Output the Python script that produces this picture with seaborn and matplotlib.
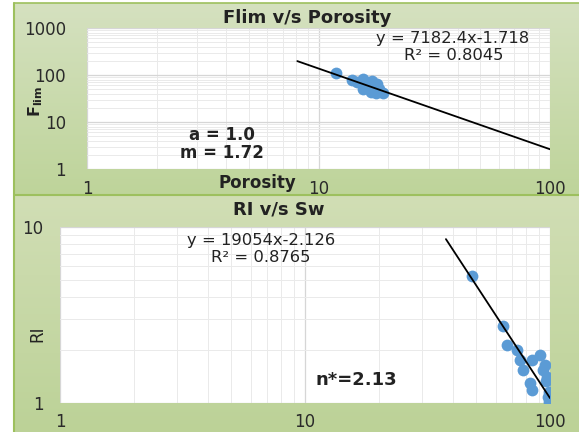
import numpy as np
import pandas as pd
import matplotlib
matplotlib.use("Agg")
import matplotlib.pyplot as plt
import seaborn as sns
from matplotlib.colors import LinearSegmentedColormap
from matplotlib.ticker import FixedLocator, FixedFormatter, LogLocator, NullFormatter

# Formation factor vs porosity
porosity = [11.96, 14.0, 15.5, 17.1, 17.9, 16.1, 14.7, 18.9, 16.9, 18.3, 17.8, 15.5]
flim = [108, 76.6, 80.5, 72.9, 62.9, 57.0, 69.5, 42.4, 44.5, 49.2, 42.4, 51.6]
flim_coef, flim_exp, flim_r2 = 7182.4, -1.718, 0.8045
flim_fit_range = [8.1, 100]

# Resistivity index vs water saturation
sw = [48.0, 64.3, 66.7, 73.3, 75.4, 84.5, 77.6, 93.6, 82.9, 97.2, 99.0, 99.0,
      84.5, 91.0, 95.4, 96.5, 98.0]
ri = [5.3, 2.74, 2.14, 2.0, 1.76, 1.76, 1.54, 1.54, 1.30, 1.40, 1.155, 1.01,
      1.19, 1.87, 1.64, 1.33, 1.08]
ri_coef, ri_exp, ri_r2 = 19054, -2.126, 0.8765
ri_fit_range = [37.6, 100]

top_yticks = [1, 10, 100, 1000]
bottom_yticks = [1, 10]
xticks = [1, 10, 100]

W, H = 579, 432
sns.set_theme(style="white")
plt.rcParams["font.family"] = ["DejaVu Sans"]

fig = plt.figure(figsize=(W / 100, H / 100), dpi=100)

# background panels in pixel coordinates
bg = fig.add_axes([0, 0, 1, 1], zorder=0)
bg.set_xlim(0, W)
bg.set_ylim(H, 0)
bg.axis("off")
grad = np.linspace(0, 1, 256).reshape(-1, 1)
top_cmap = LinearSegmentedColormap.from_list("top", ["#d5e1c0", "#bed49a"])
bot_cmap = LinearSegmentedColormap.from_list("bot", ["#d1deb5", "#bcd297"])
bg.imshow(grad, cmap=top_cmap, extent=[14, W, 194, 3], aspect="auto", origin="upper")
bg.imshow(grad, cmap=bot_cmap, extent=[14, W, H, 196], aspect="auto", origin="upper")
line_c = "#9dc05e"
bg.plot([14, 14], [3, H], color=line_c, lw=1.5)
bg.plot([14, W], [3, 3], color=line_c, lw=1.2)
bg.plot([14, W], [195, 195], color=line_c, lw=1.5)
bg.set_xlim(0, W)
bg.set_ylim(H, 0)

# transparent layer above the charts for titles and annotations
fg = fig.add_axes([0, 0, 1, 1], zorder=10)
fg.set_xlim(0, W)
fg.set_ylim(H, 0)
fg.axis("off")
fg.patch.set_alpha(0)


def rect(x0, y0, x1, y1):
    return [x0 / W, 1 - y1 / H, (x1 - x0) / W, (y1 - y0) / H]


def style_axes(ax, xlim, ylim, yticks, ypad, xpad):
    ax.set_xscale("log")
    ax.set_yscale("log")
    ax.set_xlim(*xlim)
    ax.set_ylim(*ylim)
    ax.set_facecolor("white")
    for s in ax.spines.values():
        s.set_visible(False)
    ax.xaxis.set_major_locator(FixedLocator(xticks))
    ax.xaxis.set_major_formatter(FixedFormatter([str(t) for t in xticks]))
    ax.yaxis.set_major_locator(FixedLocator(yticks))
    ax.yaxis.set_major_formatter(FixedFormatter([str(t) for t in yticks]))
    ax.xaxis.set_minor_locator(LogLocator(base=10, subs=range(2, 10)))
    ax.yaxis.set_minor_locator(LogLocator(base=10, subs=range(2, 10)))
    ax.xaxis.set_minor_formatter(NullFormatter())
    ax.yaxis.set_minor_formatter(NullFormatter())
    ax.tick_params(which="both", length=0, labelsize=12, colors="#2a2a2a")
    ax.tick_params(axis="y", pad=ypad)
    ax.tick_params(axis="x", pad=xpad)
    ax.grid(which="major", color="#d6d6d6", lw=0.9)
    ax.grid(which="minor", color="#eaeaea", lw=0.7)
    ax.set_axisbelow(True)
    ax.set_xlabel("")
    ax.set_ylabel("")


point_c = "#5b9bd5"

# top chart
ax1 = fig.add_axes(rect(87, 28, 550, 169), zorder=2)
df1 = pd.DataFrame({"porosity": porosity, "flim": flim})
sns.scatterplot(data=df1, x="porosity", y="flim", ax=ax1, color=point_c,
                s=72, linewidth=0, zorder=3)
fx = np.geomspace(*flim_fit_range, 50)
sns.lineplot(x=fx, y=flim_coef * fx ** flim_exp, ax=ax1, color="black", lw=1.3,
             zorder=4)
style_axes(ax1, (1, 100), (1, 1000), top_yticks, 15, 8)

# bottom chart
ax2 = fig.add_axes(rect(60, 227, 550, 403), zorder=2)
df2 = pd.DataFrame({"sw": sw, "ri": ri})
sns.scatterplot(data=df2, x="sw", y="ri", ax=ax2, color=point_c,
                s=72, linewidth=0, zorder=3)
rx = np.geomspace(*ri_fit_range, 50)
sns.lineplot(x=rx, y=ri_coef * rx ** ri_exp, ax=ax2, color="black", lw=1.3,
             zorder=4)
style_axes(ax2, (1, 100), (1, 10), bottom_yticks, 12, 7)

# titles, axis names and annotations (pixel coordinates)
txt = dict(ha="center", va="center", color="#222222")
fg.text(307, 18, "Flim v/s Porosity", fontsize=13, fontweight="bold", **txt)
fg.text(257, 183, "Porosity", fontsize=12, fontweight="bold", **txt)
fg.text(36, 101, r"F$_{\mathbf{lim}}$", fontsize=11.5, fontweight="bold",
        rotation=90, **txt)
fg.text(222, 135, "a = 1.0", fontsize=12, fontweight="bold", **txt)
fg.text(222, 153, "m = 1.72", fontsize=12, fontweight="bold", **txt)
fg.text(453, 39, f"y = {flim_coef}x{flim_exp}", fontsize=11.8, **txt)
fg.text(454, 56, f"R² = {flim_r2:.4f}", fontsize=11.8, **txt)

fg.text(279, 210, "RI v/s Sw", fontsize=13, fontweight="bold", **txt)
fg.text(37, 334, "RI", fontsize=12, rotation=90, **txt)
fg.text(261, 240, f"y = {ri_coef}x{ri_exp}", fontsize=11.8, **txt)
fg.text(261, 258, f"R² = {ri_r2:.4f}", fontsize=11.8, **txt)
fg.text(356, 380, "n*=2.13", fontsize=13, fontweight="bold", **txt)

fig.savefig("out.png", dpi=100)
